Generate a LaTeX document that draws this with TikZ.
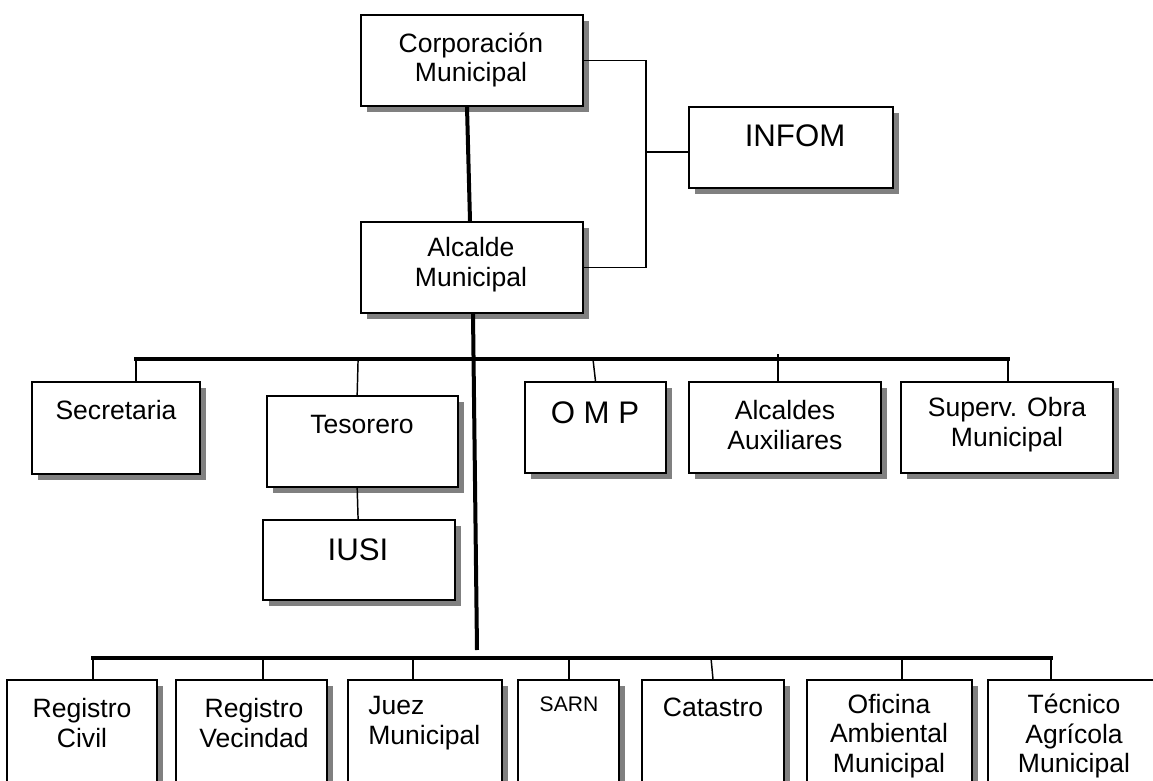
\documentclass[tikz,border=0pt]{standalone}
\usepackage{fontspec}
\setmainfont{Liberation Sans}
\usetikzlibrary{shadows,fit}
\definecolor{shadowgray}{RGB}{128,128,128}
\begin{document}
\begin{tikzpicture}[x=0.75pt,y=-0.75pt,
  box/.style={draw=black, line width=1.3pt, fill=white, inner sep=0pt, rectangle,
    drop shadow={shadow xshift=4.5pt, shadow yshift=-4.5pt, fill=shadowgray, opacity=1}},
  txt/.style={inner sep=0pt, align=center, font=\fontsize{19.9}{22.3}\selectfont},
  bigtxt/.style={inner sep=0pt, align=center, font=\fontsize{23.4}{26}\selectfont},
  smalltxt/.style={inner sep=0pt, align=center, font=\fontsize{15.8}{18}\selectfont},
  thin/.style={line width=1.1pt},
  thick line/.style={line width=3pt},
  bus/.style={line width=2.6pt, line cap=rect}]
\useasboundingbox (0,0) rectangle (1153,781);
\clip (0,0) rectangle (1153,781);

\coordinate (sj) at (646,152);
\coordinate (ubL) at (136,359);
\coordinate (ubR) at (1008,359);
\coordinate (bbL) at (93,658);
\coordinate (bbR) at (1051,658);
\coordinate (bbJ) at (477,650);

% boxes
\node[box, fit={(361,15) (583,106)}] (corp) {};
\node[box, fit={(689,107) (893,188)}] (infom) {};
\node[box, fit={(361,222) (583,313)}] (alc) {};
\node[box, fit={(32,382) (200,474)}] (sec) {};
\node[box, fit={(267,396) (458,487)}] (tes) {};
\node[box, fit={(263,520) (455,600)}] (iusi) {};
\node[box, fit={(525,382) (666,473)}] (omp) {};
\node[box, fit={(689,382) (881,473)}] (aux) {};
\node[box, fit={(901,382) (1113,473)}] (sup) {};
\node[box, fit={(7,680) (157,800)}] (rc) {};
\node[box, fit={(176,680) (327,800)}] (rv) {};
\node[box, fit={(348,680) (502,800)}] (juez) {};
\node[box, fit={(518,680) (619,800)}] (sarn) {};
\node[box, fit={(642,680) (784,800)}] (cat) {};
\node[box, fit={(807,680) (972,800)}] (ofi) {};
\node[box, fit={(988,680) (1165,800)}] (tec) {};

% texts
\node[txt] (corpT) at (471,60) {Corporación\\Municipal};
\node[bigtxt] (infomT) at (795,136) {INFOM};
\node[txt] (alcT) at (471,265) {Alcalde\\Municipal};
\node[txt] (secT) at (116,410) {Secretaria};
\node[txt] (tesT) at (362,424) {Tesorero};
\node[bigtxt] (iusiT) at (358,550) {IUSI};
\node[bigtxt] (ompT) at (595,413) {O M P};
\node[txt] (auxT) at (785,425) {Alcaldes\\Auxiliares};
\node[txt] (supT) at (1007,425) {Superv. Obra\\Municipal};
\node[txt] (rcT) at (82,723) {Registro\\Civil};
\node[txt] (rvT) at (254,723) {Registro\\Vecindad};
\node[txt, align=left, anchor=west] (juezT) at (368,723) {Juez\\Municipal};
\node[smalltxt] (sarnT) at (569,704) {SARN};
\node[txt] (catT) at (713,707) {Catastro};
\node[txt] (ofiT) at (889,736) {Oficina\\Ambiental\\Municipal};
\node[txt] (tecT) at (1074,736) {Técnico\\Agrícola\\Municipal};

% connectors
\draw[thick line] ([xshift=-3.75pt]corp.south) -- ([xshift=-1.5pt]alc.north);
\draw[thin] (corp.east) -| (sj) |- (alc.east);
\draw[thin] (sj) -- (sj -| infom.west);
\draw[thick line] ([xshift=0.75pt]alc.south) -- (bbJ);
\draw[bus] (ubL) -- (ubR);
\draw[bus] (bbL) -- (bbR);
% upper drops
\draw[thin] (ubL) -- (ubL |- sec.north);
\draw[thin] ([xshift=-3.3pt]tes.north |- ubL) -- ([xshift=-4pt]tes.north);
\draw[thin] ([xshift=-1.9pt]omp.north |- ubL) -- (omp.north);
\draw[thin] ([xshift=-5.25pt]aux.north) -- ([xshift=-5.25pt,yshift=20.25pt]aux.north);
\draw[thin] (ubR) -- (ubR |- sup.north);
\draw[thin] ([xshift=-4pt]tes.south) -- ([xshift=-3.3pt]tes.south |- iusi.north);
% lower drops
\draw[thin] (bbL) -- (bbL |- rc.north);
\draw[thin] (bbL -| 263,0) -- (263,0 |- rv.north);
\draw[thin] (bbL -| 413,0) -- (413,0 |- juez.north);
\draw[thin] (bbL -| 569,0) -- (569,0 |- sarn.north);
\draw[thin] (bbL -| 711,0) -- (713,0 |- cat.north);
\draw[thin] (bbL -| 902,0) -- (902,0 |- ofi.north);
\draw[thin] (bbR) -- (bbR |- tec.north);
\end{tikzpicture}
\end{document}
